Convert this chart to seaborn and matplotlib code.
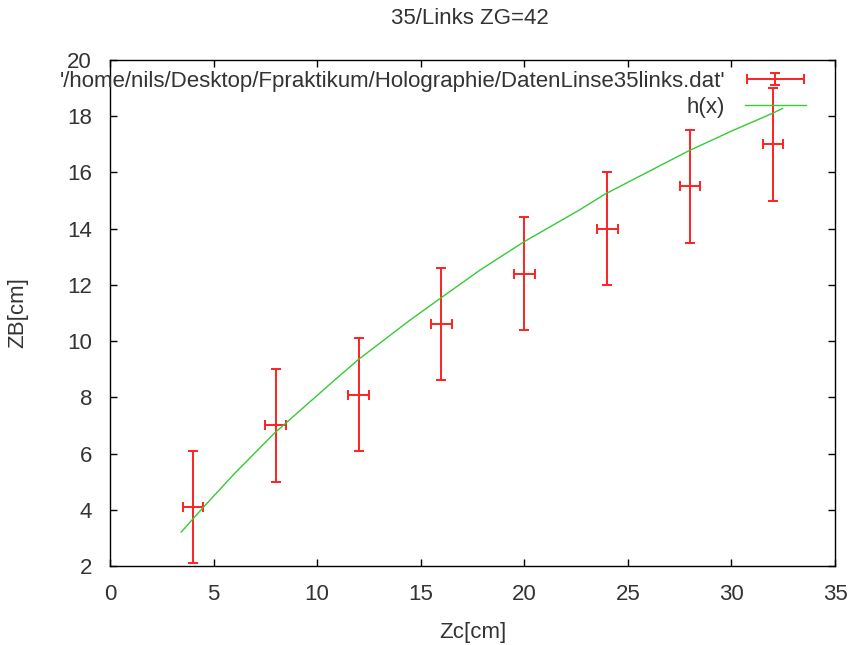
import numpy as np
import pandas as pd
import matplotlib
matplotlib.use('Agg')
import matplotlib.pyplot as plt
import seaborn as sns
from matplotlib.container import ErrorbarContainer
from matplotlib.legend_handler import HandlerErrorbar

# %%
# Messdaten (aus dem Bild abgelesen)
zc = [4, 8, 12, 16, 20, 24, 28, 32]
zb = [4.1, 7.0, 8.1, 10.6, 12.4, 14.0, 15.5, 17.0]
zc_err = [0.5] * 8
zb_err = [2.0] * 8

hx_x = [3.43, 4.47, 6.0, 7.93, 10.62, 12.0, 14.49, 16.0, 17.87, 20.0, 22.65, 23.9, 27.94, 30.0, 31.97, 32.48]
hx_y = [3.20, 4.06, 5.28, 6.72, 8.47, 9.35, 10.75, 11.55, 12.53, 13.54, 14.66, 15.23, 16.77, 17.47, 18.10, 18.28]

data_label = "'/home/nils/Desktop/Fpraktikum/Holographie/DatenLinse35links.dat'"

# %%
sns.set_style('ticks')
plt.rcParams['font.family'] = ['Liberation Sans', 'DejaVu Sans']
fs = 16
txt_col = '#333333'

fig = plt.figure(figsize=(8.49, 6.45), dpi=100)
ax = fig.add_axes([110 / 849, 79 / 645, 725 / 849, 506 / 645])

eb = ax.errorbar(zc, zb, xerr=zc_err, yerr=zb_err, fmt='none',
                 ecolor='#ff2020', elinewidth=1.4, capsize=3.5, capthick=1.4,
                 label=data_label)

df_h = pd.DataFrame({'x': hx_x, 'y': hx_y})
sns.lineplot(data=df_h, x='x', y='y', ax=ax, color='#33cc33', linewidth=1.0,
             legend=False)
h_line = ax.get_lines()[-1]

ax.set_xlim(0, 35)
ax.set_ylim(2, 20)
ax.set_xticks(np.arange(0, 36, 5))
ax.set_yticks(np.arange(2, 21, 2))
ax.tick_params(direction='in', length=5, width=1, top=True, right=True,
               labelsize=fs, labelcolor=txt_col, color='black')
ax.tick_params(axis='x', pad=13)
ax.tick_params(axis='y', pad=13)
for s in ax.spines.values():
    s.set_linewidth(1.0)
    s.set_color('black')

ax.set_xlabel('Zc[cm]', fontsize=fs, labelpad=12, color=txt_col)
ax.set_ylabel('ZB[cm]', fontsize=fs, labelpad=28, color=txt_col)
fig.text(470 / 849, 1 - 18 / 645, '35/Links ZG=42', ha='center', va='center',
         fontsize=fs, color=txt_col)

# zwei Legenden, damit der Text rechtsbuendig steht
kw = dict(frameon=False, markerfirst=False, handlelength=2.75, handletextpad=0.9,
          borderpad=0, borderaxespad=0, fontsize=fs, loc='center right',
          labelcolor=txt_col)
leg1 = ax.legend([eb], [data_label], bbox_to_anchor=(0.96, 0.958),
                 handler_map={ErrorbarContainer: HandlerErrorbar(xerr_size=1.3, yerr_size=0.25)},
                 **kw)
ax.add_artist(leg1)
ax.legend([h_line], ['h(x)'], bbox_to_anchor=(0.96, 0.907), **kw)

fig.savefig('out.png', dpi=100)
